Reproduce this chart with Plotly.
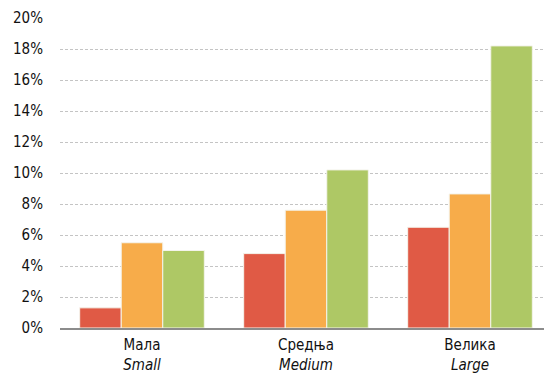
import plotly.graph_objects as go

categories = ["Мала<br><i>Small</i>", "Средња<br><i>Medium</i>", "Велика<br><i>Large</i>"]
series_a = [1.3, 4.8, 6.5]
series_b = [5.5, 7.6, 8.65]
series_c = [5.0, 10.2, 18.2]
tick_vals = [0, 2, 4, 6, 8, 10, 12, 14, 16, 18, 20]
tick_text = [f"{v}%" for v in tick_vals]

colors = ["#E05A45", "#F7AC4A", "#AEC865"]

fig = go.Figure()
for vals, col in zip([series_a, series_b, series_c], colors):
    fig.add_trace(go.Bar(
        x=categories, y=vals,
        marker=dict(color=col, line=dict(color="#F4F4EC", width=1)),
        showlegend=False,
    ))

# page body has an 8px margin, so margins are shifted to compensate
fig.update_layout(
    width=552, height=380,
    margin=dict(l=52, r=8, t=10, b=60),
    barmode="group",
    bargap=0.24,
    bargroupgap=0.0,
    plot_bgcolor="white",
    paper_bgcolor="white",
    font=dict(family="DejaVu Sans Condensed, Liberation Sans", size=15, color="#111111"),
)
fig.update_yaxes(
    range=[0, 20],
    tickvals=tick_vals,
    ticktext=tick_text,
    showgrid=True,
    gridcolor="#C4C4C4",
    griddash="3px,2px",
    gridwidth=1,
    zeroline=False,
    ticks="",
    ticklabelstandoff=16,
    automargin=False,
)
fig.update_xaxes(
    showline=True,
    linecolor="#8C8C8C",
    linewidth=2,
    ticks="",
    tickfont=dict(size=15),
    ticklabelstandoff=2,
    automargin=False,
)

fig.write_html("out.html")
